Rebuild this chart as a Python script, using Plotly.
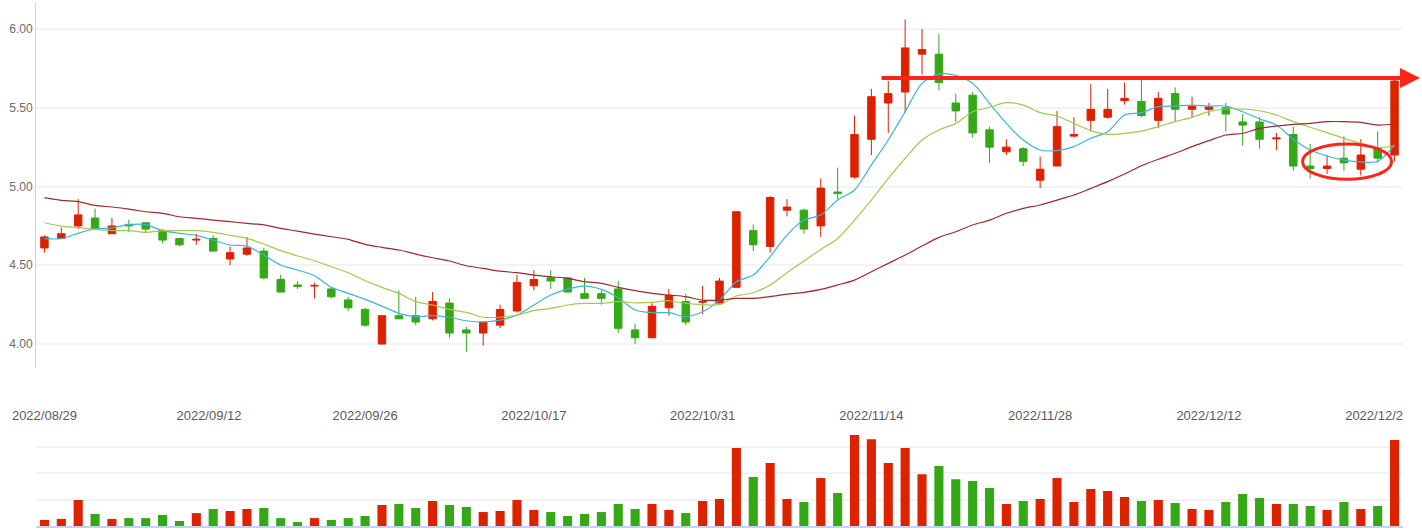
import numpy as np
import pandas as pd
import plotly.graph_objects as go

# ---------------- data ----------------
DATES = (
    ["2022/08/29", "2022/08/30", "2022/08/31"]
    + ["2022/09/%02d" % d for d in [1, 2, 5, 6, 7, 8, 9, 13, 14, 15, 16, 19, 20, 21, 22, 23, 26, 27, 28, 29, 30]]
    + ["2022/10/%02d" % d for d in [10, 11, 12, 13, 14, 17, 18, 19, 20, 21, 24, 25, 26, 27, 28, 31]]
    + ["2022/11/%02d" % d for d in [1, 2, 3, 4, 7, 8, 9, 10, 11, 14, 15, 16, 17, 18, 21, 22, 23, 24, 25, 28, 29, 30]]
    + ["2022/12/%02d" % d for d in [1, 2, 5, 6, 7, 8, 9, 12, 13, 14, 15, 16, 19, 20, 21, 22, 23, 26, 27]]
)

OPEN = [4.61, 4.67, 4.75, 4.80, 4.70, 4.76, 4.77, 4.72, 4.67, 4.660,
        4.67, 4.54, 4.57, 4.59, 4.41, 4.375, 4.368, 4.35, 4.28, 4.22,
        4.00, 4.18, 4.18, 4.16, 4.26, 4.09, 4.07, 4.12, 4.21, 4.37,
        4.42, 4.42, 4.32, 4.32, 4.35, 4.09, 4.04, 4.23, 4.27, 4.265,
        4.26, 4.36, 4.72, 4.62, 4.85, 4.85, 4.75, 4.965, 5.06, 5.30,
        5.53, 5.60, 5.84, 5.84, 5.53, 5.58, 5.36, 5.22, 5.24, 5.04,
        5.13, 5.32, 5.42, 5.44, 5.545, 5.54, 5.42, 5.59, 5.49, 5.49,
        5.50, 5.41, 5.41, 5.302, 5.33, 5.13, 5.115, 5.18, 5.11, 5.24, 5.20]
HIGH = [4.69, 4.74, 4.92, 4.86, 4.80, 4.79, 4.77, 4.73, 4.67, 4.70,
        4.69, 4.62, 4.68, 4.61, 4.44, 4.40, 4.39, 4.36, 4.30, 4.23,
        4.18, 4.34, 4.30, 4.33, 4.29, 4.11, 4.14, 4.25, 4.44, 4.47,
        4.47, 4.42, 4.42, 4.34, 4.40, 4.13, 4.26, 4.35, 4.32, 4.37,
        4.42, 4.84, 4.76, 4.94, 4.92, 4.86, 5.05, 5.12, 5.45, 5.62,
        5.67, 6.06, 6.00, 5.97, 5.59, 5.60, 5.38, 5.30, 5.25, 5.19,
        5.48, 5.44, 5.65, 5.62, 5.66, 5.68, 5.60, 5.63, 5.57, 5.53,
        5.53, 5.46, 5.44, 5.34, 5.38, 5.27, 5.20, 5.32, 5.30, 5.35, 5.69]
LOW = [4.58, 4.67, 4.73, 4.73, 4.70, 4.71, 4.71, 4.64, 4.62, 4.63,
       4.59, 4.50, 4.56, 4.41, 4.33, 4.35, 4.29, 4.29, 4.21, 4.11,
       4.00, 4.16, 4.12, 4.15, 4.04, 3.95, 3.99, 4.10, 4.20, 4.34,
       4.35, 4.33, 4.29, 4.25, 4.07, 4.00, 4.04, 4.18, 4.12, 4.19,
       4.26, 4.36, 4.59, 4.58, 4.81, 4.70, 4.68, 4.92, 5.05, 5.20,
       5.34, 5.47, 5.71, 5.61, 5.41, 5.31, 5.15, 5.20, 5.13, 4.99,
       5.13, 5.31, 5.35, 5.43, 5.52, 5.44, 5.37, 5.41, 5.44, 5.45,
       5.35, 5.26, 5.24, 5.23, 5.10, 5.05, 5.08, 5.10, 5.07, 5.15, 5.16]
CLOSE = [4.68, 4.70, 4.82, 4.73, 4.75, 4.75, 4.73, 4.66, 4.63, 4.665,
         4.59, 4.58, 4.61, 4.42, 4.33, 4.365, 4.372, 4.30, 4.23, 4.12,
         4.18, 4.16, 4.14, 4.27, 4.07, 4.07, 4.14, 4.22, 4.39, 4.41,
         4.40, 4.33, 4.29, 4.29, 4.10, 4.04, 4.24, 4.31, 4.14, 4.270,
         4.40, 4.84, 4.63, 4.93, 4.87, 4.73, 4.99, 4.955, 5.33, 5.57,
         5.59, 5.88, 5.87, 5.66, 5.48, 5.34, 5.25, 5.25, 5.16, 5.11,
         5.38, 5.33, 5.49, 5.49, 5.56, 5.45, 5.56, 5.49, 5.51, 5.505,
         5.46, 5.39, 5.30, 5.308, 5.13, 5.115, 5.13, 5.15, 5.20, 5.18, 5.67]

VOLUME = [0.23, 0.27, 0.99, 0.46, 0.27, 0.30, 0.30, 0.42, 0.19, 0.49,
          0.65, 0.57, 0.65, 0.68, 0.30, 0.15, 0.30, 0.23, 0.30, 0.38,
          0.80, 0.84, 0.68, 0.95, 0.80, 0.72, 0.53, 0.57, 0.99, 0.61,
          0.53, 0.38, 0.46, 0.53, 0.84, 0.65, 0.84, 0.61, 0.49, 0.95,
          1.03, 2.96, 1.86, 2.39, 1.03, 0.91, 1.82, 1.25, 3.46, 3.30,
          2.39, 2.96, 1.97, 2.28, 1.78, 1.71, 1.44, 0.84, 0.95, 1.03,
          1.82, 0.91, 1.41, 1.33, 1.10, 0.95, 0.99, 0.87, 0.65, 0.61,
          0.91, 1.22, 1.06, 0.84, 0.84, 0.76, 0.61, 0.91, 0.65, 0.76, 3.27]

MA5 = [4.669, 4.669, 4.703, 4.732, 4.737, 4.758, 4.758, 4.720, 4.703, 4.690,
       4.660, 4.629, 4.622, 4.565, 4.502, 4.470, 4.434, 4.360, 4.322, 4.284,
       4.241, 4.195, 4.174, 4.180, 4.170, 4.148, 4.140, 4.152, 4.184, 4.248,
       4.311, 4.349, 4.368, 4.347, 4.294, 4.216, 4.199, 4.199, 4.174, 4.205,
       4.279, 4.396, 4.438, 4.555, 4.692, 4.787, 4.819, 4.914, 4.978, 5.137,
       5.295, 5.475, 5.655, 5.714, 5.706, 5.655, 5.528, 5.401, 5.295, 5.232,
       5.228, 5.253, 5.306, 5.348, 5.454, 5.469, 5.507, 5.511, 5.517, 5.511,
       5.511, 5.475, 5.429, 5.390, 5.300, 5.232, 5.194, 5.168, 5.156, 5.160, 5.263]
MA10 = [4.770, 4.749, 4.739, 4.728, 4.720, 4.720, 4.709, 4.720, 4.720, 4.720,
        4.709, 4.690, 4.671, 4.635, 4.593, 4.559, 4.529, 4.491, 4.453, 4.402,
        4.360, 4.322, 4.269, 4.248, 4.220, 4.201, 4.170, 4.170, 4.184, 4.212,
        4.226, 4.248, 4.258, 4.258, 4.269, 4.262, 4.265, 4.275, 4.258, 4.250,
        4.250, 4.305, 4.326, 4.375, 4.453, 4.527, 4.601, 4.669, 4.787, 4.914,
        5.052, 5.179, 5.295, 5.359, 5.401, 5.475, 5.503, 5.532, 5.517, 5.469,
        5.448, 5.401, 5.355, 5.331, 5.338, 5.352, 5.380, 5.412, 5.439, 5.475,
        5.492, 5.492, 5.481, 5.454, 5.412, 5.376, 5.342, 5.306, 5.274, 5.247, 5.259]
MA20 = [4.929, 4.912, 4.904, 4.880, 4.870, 4.857, 4.840, 4.830, 4.808, 4.798,
        4.787, 4.777, 4.766, 4.756, 4.734, 4.717, 4.698, 4.681, 4.665, 4.633,
        4.614, 4.597, 4.571, 4.548, 4.527, 4.497, 4.480, 4.463, 4.453, 4.438,
        4.427, 4.417, 4.396, 4.385, 4.360, 4.339, 4.322, 4.311, 4.301, 4.279,
        4.279, 4.290, 4.290, 4.301, 4.317, 4.328, 4.347, 4.375, 4.406, 4.459,
        4.512, 4.565, 4.622, 4.677, 4.713, 4.756, 4.787, 4.830, 4.861, 4.883,
        4.914, 4.946, 4.988, 5.031, 5.079, 5.132, 5.173, 5.211, 5.253, 5.291,
        5.327, 5.338, 5.369, 5.384, 5.395, 5.401, 5.412, 5.412, 5.407, 5.390, 5.397]

TICK_DATES = ["2022/08/29", "2022/09/12", "2022/09/26", "2022/10/17", "2022/10/31",
              "2022/11/14", "2022/11/28", "2022/12/12", "2022/12/26"]

# ---------------- styling ----------------
RED = "#dd2200"
GREEN = "#34a816"
C_MA5 = "#3db5d8"
C_MA10 = "#a4c74e"
C_MA20 = "#a0282b"
MARK = "#ff2418"

W, H = 1422, 530
ML, MR, MT, MB = 36, 19, 3, 4
PH = H - MT - MB

def ypaper(px):
    return (H - MB - px) / PH

idx = np.arange(len(DATES))
date_ord = pd.to_datetime(DATES).map(pd.Timestamp.toordinal).to_numpy()
tick_ord = pd.to_datetime(TICK_DATES).map(pd.Timestamp.toordinal).to_numpy()
tick_pos = np.interp(tick_ord, date_ord, idx)

vol_colors = [RED if c > o else GREEN for o, c in zip(OPEN, CLOSE)]

fig = go.Figure()
fig.add_trace(go.Candlestick(
    x=idx, open=OPEN, high=HIGH, low=LOW, close=CLOSE,
    increasing=dict(line=dict(color=RED, width=1), fillcolor=RED),
    decreasing=dict(line=dict(color=GREEN, width=1), fillcolor=GREEN),
    whiskerwidth=0, xaxis="x", yaxis="y", hoverinfo="skip", name="K"))
for vals, col, nm in [(MA5, C_MA5, "MA5"), (MA10, C_MA10, "MA10"), (MA20, C_MA20, "MA20")]:
    fig.add_trace(go.Scatter(x=idx, y=vals, mode="lines", name=nm,
                             line=dict(color=col, width=1.2, shape="spline", smoothing=0.8),
                             xaxis="x", yaxis="y", hoverinfo="skip"))
fig.add_trace(go.Bar(x=idx, y=VOLUME, marker=dict(color=vol_colors, line=dict(width=0)),
                     width=0.54, xaxis="x2", yaxis="y2", hoverinfo="skip", name="VOL"))

xr = [-0.5, len(DATES) - 0.5]
fig.update_layout(
    width=W, height=H,
    margin=dict(l=ML, r=MR, t=MT, b=MB),
    paper_bgcolor="white", plot_bgcolor="white",
    showlegend=False,
    boxgap=0.37,
    font=dict(family="Liberation Sans, Arial, sans-serif", size=12, color="#666"),
    xaxis=dict(domain=[0, 1], anchor="y", range=xr, rangeslider=dict(visible=False),
               showgrid=False, zeroline=False, showline=False, ticks="",
               tickmode="array", tickvals=tick_pos, ticktext=TICK_DATES,
               tickfont=dict(size=13, color="#5a5a5a"), ticklabelstandoff=38),
    yaxis=dict(domain=[ypaper(368), 1], anchor="x", range=[3.848, 6.165],
               tick0=4, dtick=0.5, tickformat=".2f", showgrid=True, gridcolor="#f2f3f5",
               gridwidth=1.5, zeroline=False, showline=True, linecolor="#c5d4e8", linewidth=1,
               ticks="", tickfont=dict(size=12, color="#6b6b6b")),
    xaxis2=dict(domain=[0, 1], anchor="y2", range=xr, matches="x", showticklabels=False,
                showgrid=False, zeroline=False, showline=True, linecolor="#c5d4e8", linewidth=1.5,
                ticks=""),
    yaxis2=dict(domain=[0, ypaper(420.7)], anchor="x2", range=[0, 4], dtick=1,
                showgrid=True, gridcolor="#f2f3f5", gridwidth=1.5, zeroline=False,
                showline=False, showticklabels=False, ticks=""),
)

# red ellipse around the last consolidation candles
fig.add_shape(type="circle", xref="x", yref="y", x0=74.55, x1=79.82, y0=5.046, y1=5.270,
              line=dict(color=MARK, width=3))
# red horizontal arrow at the prior high level
fig.add_annotation(xref="paper", yref="y", x=(1420 - ML) / (W - ML - MR), y=5.689,
                   axref="pixel", ayref="pixel", ax=-540, ay=0, text="",
                   showarrow=True, arrowhead=2, arrowsize=1, arrowwidth=4, arrowcolor=MARK)
# the last date label is clipped by the grid edge in the reference
fig.add_shape(type="rect", xref="paper", yref="paper", x0=1.0, x1=1.05,
              y0=ypaper(428), y1=ypaper(402), fillcolor="white", line=dict(width=0),
              layer="above")

fig.write_html("out.html")
